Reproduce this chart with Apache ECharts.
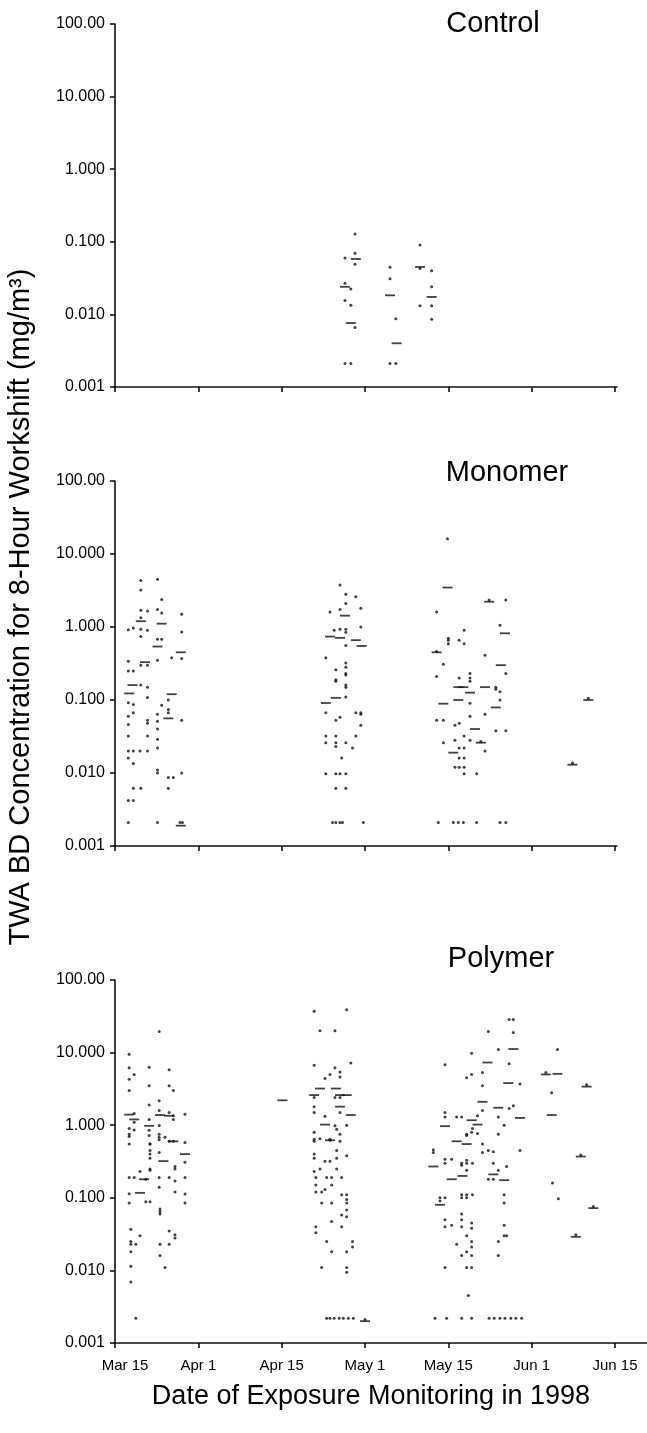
<!DOCTYPE html>
<html>
<head>
<meta charset="utf-8">
<script src="https://cdn.jsdelivr.net/npm/echarts@6/dist/echarts.min.js"></script>
<style>
html,body{margin:0;padding:0;background:#fff;}
#chart{width:647px;height:1433px;}
</style>
</head>
<body>
<div id="chart"></div>
<script>
// x positions are in "half-month" axis units: 0 = Mar 15, 1 = Apr 1, 2 = Apr 15, 3 = May 1, 4 = May 15, 5 = Jun 1, 6 = Jun 15
const tickLabels = ['Mar 15','Apr 1','Apr 15','May 1','May 15','Jun 1','Jun 15'];
const tickPositions = [0,1,2,3,4,5,6];
const yTickLabels = ['0.001','0.010','0.100','1.000','10.000','100.00']; // 10^-3 ... 10^2
const panelNames = ['Control','Monomer','Polymer'];
const xTitle = 'Date of Exposure Monitoring in 1998';
const yTitle = 'TWA BD Concentration for 8-Hour Workshift (mg/m\u00B3)';

// individual measurements: [x, [values...]]
const controlSamples = [
  [2.76,[0.060,0.0268,0.0155,0.0021]],
  [2.83,[0.0224,0.0134,0.0021]],
  [2.88,[0.128,0.0695,0.049,0.0066]],
  [3.30,[0.0447,0.031,0.0021]],
  [3.37,[0.0087,0.0021]],
  [3.66,[0.090,0.043,0.0132]],
  [3.80,[0.040,0.024,0.0132,0.0086]]
];
const controlMeans = [[2.76,0.024],[2.89,0.058],[2.83,0.0076],[3.30,0.0183],[3.38,0.004],[3.66,0.045],[3.80,0.0174]];

const monomerSamples = [
  [0.16,[0.92,0.34,0.25,0.092,0.060,0.046,0.032,0.020,0.016,0.0042,0.0021]],
  [0.22,[0.97,0.25,0.087,0.067,0.020,0.0135,0.0062,0.0042]],
  [0.30,[0.020]],
  [0.31,[4.35,3.2,1.69,1.34,0.93,0.74,0.30,0.16,0.0062]],
  [0.39,[1.65,0.90,0.30,0.15,0.108,0.053,0.048,0.032,0.020]],
  [0.51,[4.5,1.73,0.68,0.35,0.064,0.051,0.040,0.029,0.022,0.011,0.010,0.0021]],
  [0.56,[2.39,1.56,0.68,0.085]],
  [0.64,[0.10,0.074,0.067,0.0087,0.0062]],
  [0.68,[0.38]],
  [0.70,[0.0087]],
  [0.78,[0.0021]],
  [0.80,[1.49,0.855,0.37,0.053,0.010]],
  [0.81,[0.0021]],
  [2.53,[0.38,0.067,0.032,0.026,0.0098]],
  [2.58,[1.6]],
  [2.61,[0.0021]],
  [2.63,[0.9]],
  [2.65,[0.26,0.19,0.18,0.053,0.032,0.026,0.023,0.0098,0.0062,0.0021]],
  [2.70,[3.76,1.73,0.93,0.058,0.0098,0.0021]],
  [2.72,[0.016]],
  [2.73,[0.0021]],
  [2.77,[2.8,2.1,0.93,0.85,0.56,0.32,0.28,0.23,0.22,0.16,0.15,0.11,0.026,0.0098,0.0062]],
  [2.85,[0.022]],
  [2.89,[2.6,0.067,0.032]],
  [2.95,[1.8,1.0,0.067,0.064,0.045]],
  [2.98,[0.0021]],
  [3.86,[1.6,0.46,0.21,0.053]],
  [3.88,[0.0021]],
  [3.94,[0.31,0.053,0.026]],
  [3.99,[16.2]],
  [4.00,[0.7,0.66,0.59]],
  [4.06,[0.0021]],
  [4.08,[0.045,0.028,0.012]],
  [4.12,[0.0021]],
  [4.13,[0.66,0.2,0.048,0.022,0.016,0.012]],
  [4.18,[0.0021]],
  [4.19,[0.9,0.59,0.032,0.022,0.016,0.012,0.0098]],
  [4.26,[0.23,0.20,0.18,0.09,0.06,0.028]],
  [4.34,[0.0098,0.0021]],
  [4.39,[0.027]],
  [4.44,[0.41,0.064,0.02]],
  [4.49,[2.35]],
  [4.57,[0.15,0.14,0.038]],
  [4.62,[1.06,0.13,0.10,0.0021]],
  [4.69,[2.35,0.23,0.038,0.0021]],
  [5.49,[0.0137]],
  [5.68,[0.106]]
];
const monomerMeans = [
  [0.17,0.123],[0.21,0.16],[0.31,1.2],[0.36,0.33],[0.51,0.54],[0.56,1.11],[0.64,0.056],[0.68,0.12],[0.79,0.45],[0.79,0.0019],
  [2.53,0.091],[2.58,0.74],[2.65,0.107],[2.70,0.71],[2.76,1.43],[2.89,0.66],[2.96,0.55],
  [3.86,0.45],[3.94,0.089],[3.99,3.47],[4.06,0.019],[4.12,0.15],[4.12,0.10],[4.18,0.15],[4.26,0.126],[4.32,0.04],[4.39,0.026],
  [4.44,0.15],[4.49,2.22],[4.57,0.079],[4.63,0.30],[4.68,0.82],
  [5.49,0.013],[5.68,0.1]
];

const polymerSamples = [
  [0.17,[9.5,6.2,4.3,3.0,0.9,0.75,0.7,0.55,0.19,0.114,0.085]],
  [0.19,[0.037,0.025,0.023,0.018,0.0114,0.0069]],
  [0.23,[5.0,1.45,1.1,0.86,0.19]],
  [0.25,[0.023,0.0022]],
  [0.30,[0.23,0.030]],
  [0.37,[0.18,0.088]],
  [0.41,[6.3,3.5,1.9,1.2,0.85,0.72]],
  [0.42,[0.55,0.55,0.45,0.40,0.35,0.25,0.24,0.088]],
  [0.53,[19.5,2.17,1.6,0.99,0.75,0.68,0.63,0.42,0.19,0.14]],
  [0.54,[0.07,0.065,0.06,0.023,0.016]],
  [0.60,[0.68,0.011]],
  [0.65,[5.8,3.5,1.5,0.6,0.19,0.035,0.023]],
  [0.70,[3.0,1.35,1.2,0.6]],
  [0.72,[0.27,0.25,0.17,0.12,0.031,0.028]],
  [0.84,[1.42,0.58,0.31,0.19,0.113,0.085]],
  [2.39,[37,6.7,2.4,1.8,1.5,0.8,0.64,0.6,0.4,0.35,0.23]],
  [2.41,[0.19,0.15,0.12,0.04,0.033]],
  [2.46,[20,0.65,0.25]],
  [2.48,[0.12,0.085,0.011]],
  [2.52,[4.4,1.33,0.32,0.13]],
  [2.54,[0.19,0.025,0.0022]],
  [2.58,[5.0,0.64,0.62,0.32,0.0022]],
  [2.60,[0.19,0.15,0.085,0.047,0.018]],
  [2.63,[0.0022]],
  [2.64,[20,6.2,2.4,0.98]],
  [2.66,[0.88,0.45,0.35,0.25]],
  [2.69,[0.0022]],
  [2.70,[5.4,4.6,2.4,1.5,0.75,0.6]],
  [2.72,[0.19,0.11,0.058,0.04]],
  [2.74,[0.0022]],
  [2.78,[39,1.0,0.38,0.11,0.095,0.085,0.068,0.055,0.018,0.011,0.0094]],
  [2.80,[0.0022]],
  [2.83,[7.2]],
  [2.85,[0.025,0.021]],
  [2.86,[0.0022]],
  [3.00,[0.0021]],
  [3.82,[0.46,0.42]],
  [3.84,[0.0022]],
  [3.90,[0.1,0.09]],
  [3.96,[6.8,1.5,1.3,0.34,0.30,0.1,0.05,0.04,0.011]],
  [3.98,[0.0022]],
  [4.04,[0.34,0.042]],
  [4.10,[1.3,0.023]],
  [4.16,[1.3,0.3,0.28,0.11,0.10,0.06,0.05,0.04,0.016,0.0022]],
  [4.22,[4.5,0.75,0.72,0.33,0.30,0.24,0.11,0.10,0.03,0.018,0.011]],
  [4.24,[0.0045]],
  [4.28,[9.8,5.0,0.8,0.045,0.038,0.025,0.021,0.016,0.011,0.0022]],
  [4.29,[0.9,0.30,0.11]],
  [4.35,[1.35,0.77]],
  [4.41,[5.3,3.5,1.6,0.55,0.42]],
  [4.48,[19.5,0.45,0.18]],
  [4.49,[0.0022]],
  [4.54,[0.43,0.30,0.18]],
  [4.55,[0.0022]],
  [4.60,[11,1.3,0.75,0.24,0.025,0.016]],
  [4.62,[0.0022]],
  [4.67,[1.0,0.11,0.085,0.042,0.03]],
  [4.68,[0.0022]],
  [4.70,[0.27,0.03]],
  [4.73,[28.6,7.0,1.7]],
  [4.75,[0.0022]],
  [4.78,[28.6,18.9,1.85]],
  [4.81,[0.0022]],
  [4.86,[3.7,0.45]],
  [4.88,[0.0022]],
  [5.17,[5.3]],
  [5.24,[2.8]],
  [5.25,[0.16]],
  [5.31,[11]],
  [5.32,[0.097]],
  [5.53,[0.031]],
  [5.59,[0.39]],
  [5.66,[3.6]],
  [5.74,[0.076]]
];
const polymerMeans = [
  [0.17,1.4],[0.23,1.2],[0.30,0.117],[0.35,0.18],[0.41,0.98],[0.54,1.38],[0.58,0.32],[0.65,1.35],[0.70,0.6],[0.84,0.40],
  [2.01,2.2],
  [2.39,2.6],[2.46,3.2],[2.52,1.02],[2.58,0.62],[2.65,3.2],[2.70,2.6],[2.70,1.8],[2.78,2.6],[2.83,1.38],[3.00,0.0020],
  [3.82,0.27],[3.90,0.08],[3.96,0.97],[4.04,0.18],[4.10,0.6],[4.17,0.2],[4.22,0.55],[4.28,1.17],[4.35,1.02],[4.41,2.1],
  [4.47,7.3],[4.54,0.21],[4.60,1.74],[4.67,0.175],[4.72,3.8],[4.78,11.2],[4.86,1.26],
  [5.17,5.0],[5.31,5.1],[5.24,1.38],[5.53,0.029],[5.59,0.37],[5.66,3.4],[5.74,0.072]
];

function flatten(groups){
  const out = [];
  groups.forEach(([x, vals]) => vals.forEach(v => out.push([x, v])));
  return out;
}

const FONT = '"Liberation Sans", Arial, Helvetica, sans-serif';
const INK = '#111';
const panels = [
  {name: panelNames[0], samples: controlSamples, means: controlMeans, top: 24, height: 363, xMax: 6.024, labels: false, titleX: 493, titleY: 24},
  {name: panelNames[1], samples: monomerSamples, means: monomerMeans, top: 481, height: 365, xMax: 6.024, labels: false, titleX: 507, titleY: 473},
  {name: panelNames[2], samples: polymerSamples, means: polymerMeans, top: 980, height: 363, xMax: 6.384, labels: true, titleX: 501, titleY: 959}
];
const xMin = -0.012;
const pxPerUnit = 83.33;

const grids = [], xAxes = [], yAxes = [], series = [], graphics = [];
panels.forEach((p, i) => {
  grids.push({left: 114, top: p.top, width: (p.xMax - xMin) * pxPerUnit, height: p.height, containLabel: false});
  xAxes.push({
    type: 'value', gridIndex: i, min: xMin, max: p.xMax,
    axisLine: {show: true, onZero: false, lineStyle: {color: INK, width: 1.6}},
    axisTick: {show: true, inside: false, length: 5, customValues: tickPositions, lineStyle: {color: INK, width: 1.6}},
    axisLabel: {show: p.labels, customValues: tickPositions, margin: 15, color: '#000', fontSize: 15, fontFamily: FONT,
      formatter: v => {
        const k = Math.round(v);
        const t = tickLabels[k] || '';
        return k === 0 ? '{first|' + t + '}' : t;
      },
      rich: {first: {padding: [0, 0, 0, 20], fontSize: 15, color: '#000', fontFamily: FONT}}},
    splitLine: {show: false}
  });
  yAxes.push({
    type: 'log', logBase: 10, gridIndex: i, min: 0.001, max: 100,
    axisLine: {show: true, lineStyle: {color: INK, width: 1.6}},
    axisTick: {show: true, inside: false, length: 5, lineStyle: {color: INK, width: 1.6}},
    minorTick: {show: false},
    axisLabel: {margin: 9, color: '#000', fontSize: 16, fontFamily: FONT,
      formatter: v => yTickLabels[Math.round(Math.log10(v)) + 3] || ''},
    splitLine: {show: false}
  });
  series.push({
    type: 'scatter', xAxisIndex: i, yAxisIndex: i, data: flatten(p.samples),
    symbol: 'circle', symbolSize: 3, itemStyle: {color: INK}, silent: true
  });
  series.push({
    type: 'scatter', xAxisIndex: i, yAxisIndex: i, data: p.means,
    symbol: 'rect', symbolSize: [10, 1.8], itemStyle: {color: INK}, silent: true
  });
  graphics.push({type: 'text', x: p.titleX, y: p.titleY,
    style: {text: p.name, fill: '#000', font: '29px ' + FONT, textAlign: 'center', textVerticalAlign: 'middle'}});
});

graphics.push({type: 'text', x: 371, y: 1397,
  style: {text: xTitle, fill: '#000', font: '27px ' + FONT, textAlign: 'center', textVerticalAlign: 'middle'}});
graphics.push({type: 'text', x: 21, y: 607, rotation: Math.PI / 2,
  style: {text: yTitle, fill: '#000', font: '29px ' + FONT, textAlign: 'center', textVerticalAlign: 'middle'}});

const chart = echarts.init(document.getElementById('chart'), null, {renderer: 'canvas'});
chart.setOption({
  backgroundColor: '#fff',
  animation: false,
  grid: grids,
  xAxis: xAxes,
  yAxis: yAxes,
  series: series,
  graphic: graphics
});
</script>
</body>
</html>
